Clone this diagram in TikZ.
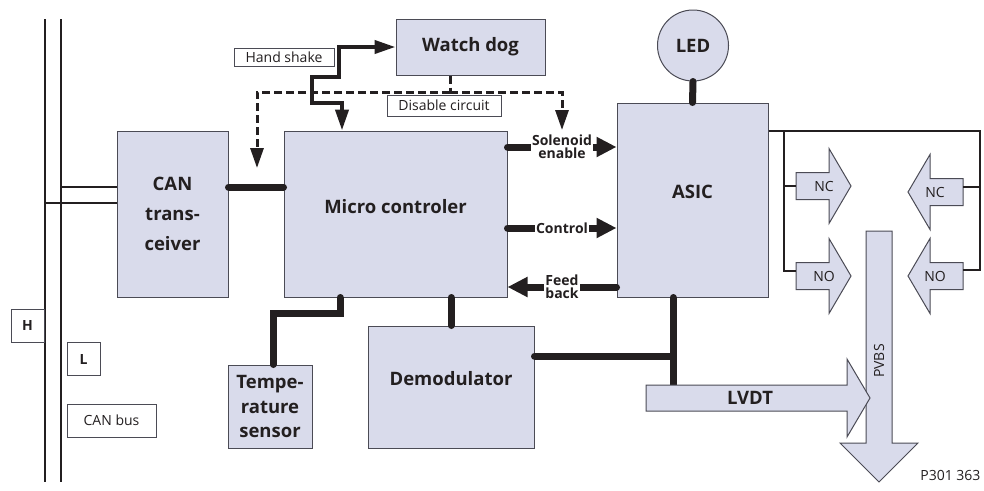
\documentclass[tikz,border=0pt]{standalone}
\usepackage{fontspec}
\setmainfont{Open Sans}
\usetikzlibrary{arrows.meta}
\definecolor{blkfill}{RGB}{217,219,235}
\definecolor{blkline}{RGB}{75,75,85}
\definecolor{ink}{RGB}{35,31,32}
\tikzset{
  block/.style  = {draw=blkline, fill=blkfill, line width=1pt, inner sep=0pt, align=center,
                   text=ink, font=\bfseries\fontsize{18.5}{23}\selectfont},
  tag/.style    = {draw=blkline, fill=white, line width=1pt, inner sep=0pt, text=ink,
                   font=\fontsize{14}{17}\selectfont},
  wire/.style   = {line width=7pt, line cap=round, draw=ink},
  sig/.style    = {wire, -{Triangle[length=20pt,width=19pt]}},
  siglbl/.style = {fill=white, inner sep=1pt, align=center, text=ink,
                   font=\bfseries\fontsize{14}{13}\selectfont},
  hs/.style     = {line width=4pt, draw=ink,
                   {Triangle[length=21pt,width=13pt]}-{Triangle[length=21pt,width=13pt]}},
  dsh/.style    = {line width=3pt, draw=ink, dash pattern=on 8pt off 4pt},
  dsharrow/.style = {dsh, -{Triangle[length=20pt,width=13pt]}},
  thin/.style   = {line width=2.5pt, draw=ink},
  blkarrow/.style = {draw=blkline, fill=blkfill, line width=1pt},
}
\begin{document}
\begin{tikzpicture}[x=1pt, y=-1pt]
  \useasboundingbox (0,0) rectangle (984,490);
  % CAN bus
  \coordinate (Htop) at (45,19);  \coordinate (Hbot) at (45,482);
  \coordinate (Ltop) at (61,19);  \coordinate (Lbot) at (61,482);
  \draw[thin] (Htop) -- (Hbot);
  \draw[thin] (Ltop) -- (Lbot);
  \foreach \n/\x/\y/\w/\t in {tagH/27.5/325.5/33/H, tagL/83.5/359/33/L} {
    \node[tag, minimum width=\w, minimum height=33, font=\bfseries\fontsize{14}{17}\selectfont] (\n) at (\x,\y) {\t};
  }
  \node[tag, minimum width=89, minimum height=33] (tagbus) at (111.5,420.5) {CAN bus};

  % blocks
  \node[block, minimum width=111, minimum height=166, font=\bfseries\fontsize{18.5}{30}\selectfont]
    (can) at (172.5,214) {CAN\\trans-\\ceiver};
  \node[block, minimum width=223, minimum height=166, text depth=16pt] (micro) at (395.5,214) {Micro controler};
  \node[block, minimum width=149, minimum height=56] (wdog) at (470.5,47) {Watch dog};
  \node[block, minimum width=151, minimum height=194, text depth=16pt] (asic) at (692.5,200) {ASIC};
  \node[block, circle, minimum size=71] (led) at (693,45.5) {LED};
  \node[block, minimum width=166, minimum height=122, text depth=18pt] (demod) at (451,387) {Demodulator};
  \node[block, minimum width=84, minimum height=83, font=\bfseries\fontsize{18.5}{24.5}\selectfont]
    (temp) at (270,406.5) {Tempe-\\rature\\sensor};

  % labels
  \node[tag, minimum width=100, minimum height=18] (hsl) at (284,57) {Hand shake};
  \node[tag, minimum width=114, minimum height=21] (dcl) at (444,105.5) {Disable circuit};

  % bus to transceiver
  \draw[thin] (Ltop |- 0,187) -- (can.west |- 0,187);
  \draw[thin] (Htop |- 0,203) -- (can.west |- 0,203);

  % hand shake and watch dog
  \draw[hs] (wdog.west) -| (339,77) -| (312,103) -| (micro.north -| 342,0);
  \coordinate (dj) at (450,92);
  \coordinate (dl) at (257,168);
  \coordinate (dr) at (562,130);
  \draw[dsh] (wdog.south -| dj) -- (dj);
  \draw[dsharrow] (dj) -| (dl);
  \draw[dsharrow] (dj) -| (dr);

  % thick wires
  \draw[wire] (can.east |- 0,187) -- (micro.west |- 0,187);
  \draw[wire] (led.south) -- (asic.north);
  \draw[wire] (micro.south -| demod.north) -- (demod.north);
  \draw[wire] (micro.south -| 340,0) |- (273,313) -- (temp.north -| 273,0);
  \draw[sig] (micro.east |- 0,147) -- node[siglbl] {Solenoid\\enable} (asic.west |- 0,147);
  \draw[sig] (micro.east |- 0,228) -- node[siglbl] {Control} (asic.west |- 0,228);
  \draw[sig] (asic.west |- 0,287) -- node[siglbl] {Feed\\back} (micro.east |- 0,287);
  \coordinate (lvdttop) at (673,385);
  \draw[wire] (asic.south -| lvdttop) -- (lvdttop);
  \draw[wire] (demod.east |- 0,356) -- (lvdttop |- 0,356);

  % valve arrows
  \foreach \n/\x/\y/\s/\d/\t in {ncl/796/186/186/1/NC, nol/796/276/271/1/NO,
                                 ncr/963/192/187/-1/NC, nor/963/276/270/-1/NO} {
    \begin{scope}[shift={(\x,\y)}, xscale=\d]
      \draw[blkarrow] (0,-13.5) -- (33,-13.5) -- (33,-37.5) -- (55,0) -- (33,37.5) -- (33,13.5) -- (0,13.5) -- cycle;
    \end{scope}
    \coordinate (\n) at (\x,\s);
    \node[text=ink, font=\fontsize{14}{17}\selectfont] (\n txt) at ({\x+\d*28},\y) {\t};
  }
  \coordinate (rtop) at (980,131);
  \coordinate (rin) at (784,131);
  \draw[thin] (asic.east |- rtop) -- (rtop) |- (nor);
  \draw[thin] (rtop |- ncr) -- (ncr);
  \draw[thin] (rin) |- (nol);
  \draw[thin] (rin |- ncl) -- (ncl);

  % PVBS and LVDT
  \draw[blkarrow] (866,231) -- (892,231) -- (892,443) -- (918,443) -- (879,482) -- (840,443) -- (866,443) -- cycle;
  \node[rotate=90, text=ink, font=\fontsize{14}{17}\selectfont] (pvbs) at (879,361) {PVBS};
  \draw[blkarrow] (646,385) -- (847,385) -- (847,359) -- (870,398) -- (847,437) -- (847,411) -- (646,411) -- cycle;
  \node[text=ink, font=\bfseries\fontsize{18.5}{23}\selectfont] (lvdt) at (750,398) {LVDT};

  \node[anchor=east, text=ink, font=\fontsize{14}{17}\selectfont] (fig) at (984,475) {P301 363};
\end{tikzpicture}
\end{document}
